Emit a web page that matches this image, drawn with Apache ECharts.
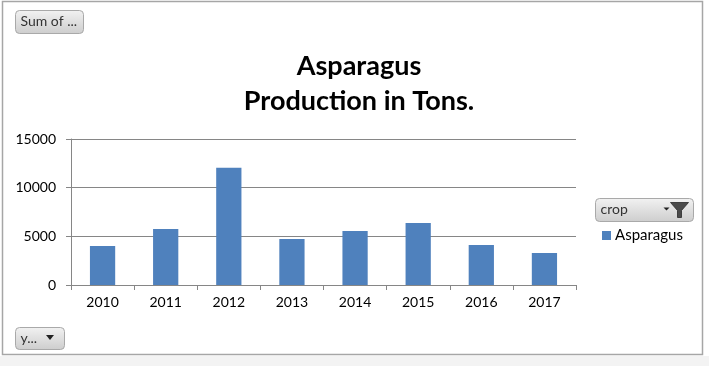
<!DOCTYPE html>
<html>
<head>
<meta charset="utf-8">
<script src="https://cdn.jsdelivr.net/npm/echarts@6/dist/echarts.min.js"></script>
<style>
  html, body { margin: 0; padding: 0; background: #ffffff; }
  #chart { width: 709px; height: 366px; }
</style>
</head>
<body>
<div id="chart"></div>
<script>
const categories = ['2010', '2011', '2012', '2013', '2014', '2015', '2016', '2017'];
const asparagus = [4000, 5750, 12050, 4720, 5550, 6370, 4110, 3290];
const yTicks = { min: 0, max: 15000, interval: 5000 };
const seriesName = 'Asparagus';
const titleText = 'Asparagus\nProduction in Tons.';

const chart = echarts.init(document.getElementById('chart'));
const FONT = 'Lato, "Open Sans", sans-serif';
const btnFill = new echarts.graphic.LinearGradient(0, 0, 0, 1, [
  { offset: 0, color: '#f2f2f2' },
  { offset: 1, color: '#cdcdcd' }
]);
function button(x, y, w, h, label) {
  return {
    type: 'group', left: x, top: y, children: [
      { type: 'rect', shape: { x: 0, y: 0, width: w, height: h, r: 4 },
        style: { fill: btnFill, stroke: '#a9a9a9', lineWidth: 1 } },
      { type: 'text', left: 5, top: 4,
        style: { text: label, font: '14px ' + FONT, fill: '#333333' } }
    ]
  };
}
chart.setOption({
  animation: false,
  backgroundColor: '#ffffff',
  title: {
    text: titleText,
    left: 354,
    top: 44,
    textAlign: 'center',
    textStyle: { fontFamily: FONT, fontWeight: 'bold', fontSize: 27, lineHeight: 35, color: '#000000' }
  },
  legend: {
    data: [seriesName],
    left: 602,
    top: 228,
    padding: 0,
    icon: 'rect',
    itemWidth: 9,
    itemHeight: 9,
    itemGap: 5,
    textStyle: { fontFamily: FONT, fontSize: 15, color: '#000000', padding: [0, 0, 0, -1] }
  },
  grid: { left: 71, right: 133, top: 139, bottom: 81 },
  xAxis: {
    type: 'category',
    data: categories,
    axisLine: { lineStyle: { color: '#868686', width: 1 } },
    axisTick: { show: true, length: 5, lineStyle: { color: '#868686' } },
    axisLabel: { fontFamily: FONT, fontSize: 14, color: '#000000', margin: 10 }
  },
  yAxis: {
    type: 'value',
    min: yTicks.min, max: yTicks.max, interval: yTicks.interval,
    axisLine: { show: true, lineStyle: { color: '#868686', width: 1 } },
    axisTick: { show: true, length: 5, lineStyle: { color: '#868686' } },
    splitLine: { show: true, lineStyle: { color: '#868686', width: 1 } },
    axisLabel: { fontFamily: FONT, fontSize: 14, color: '#000000', margin: 15,
      formatter: function (v) { return String(v); } }
  },
  series: [{
    name: seriesName,
    type: 'bar',
    data: asparagus,
    barWidth: '40%',
    itemStyle: { color: '#4f81bd' }
  }],
  graphic: [
    { type: 'rect', silent: true, z: -10, shape: { x: 0, y: 356, width: 709, height: 10 },
      style: { fill: '#f3f3f3' } },
    { type: 'rect', silent: true, z: -9, shape: { x: 2.5, y: 1.5, width: 700, height: 353 },
      style: { fill: 'none', stroke: '#a6a6a6', lineWidth: 1.5 } },
    button(15, 10, 68, 23, 'Sum of ...'),
    button(15, 327, 49, 22, 'y...'),
    {
      type: 'group', left: 595, top: 198, children: [
        { type: 'rect', shape: { x: 0, y: 0, width: 98, height: 23, r: 4 },
          style: { fill: btnFill, stroke: '#a9a9a9', lineWidth: 1 } },
        { type: 'text', left: 5, top: 4,
          style: { text: 'crop', font: '14px ' + FONT, fill: '#333333' } },
        { type: 'polygon', shape: { points: [[68, 9], [74, 9], [71, 12]] },
          style: { fill: '#222222' } },
        { type: 'polygon', shape: { points: [[75, 4], [93, 4], [86, 12], [86, 19], [82, 19], [82, 12]] },
          style: { fill: '#4a4a4a', stroke: '#2a2a2a', lineWidth: 0.8 } }
      ]
    },
    { type: 'polygon', shape: { points: [[46, 335], [54, 335], [50, 340]] },
      style: { fill: '#222222' } }
  ]
});
</script>
</body>
</html>
